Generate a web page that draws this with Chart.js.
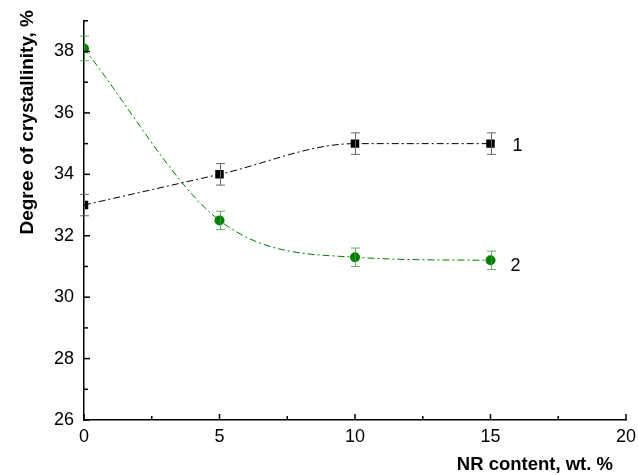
<!DOCTYPE html>
<html>
<head>
<meta charset="utf-8">
<script src="https://cdn.jsdelivr.net/npm/chart.js@4/dist/chart.umd.min.js"></script>
<style>
  html, body { margin: 0; padding: 0; background: #fff; }
  #wrap { width: 638px; height: 475px; }
</style>
</head>
<body>
<div id="wrap"><canvas id="chart" width="638" height="475"></canvas></div>
<script>
// NR-Gehalt (x) und Kristallinitätsgrad (y)
const nrContent = [0, 5, 10, 15];
const crystal1 = [33.0, 34.0, 35.0, 35.0];
const error1 = [0.35, 0.35, 0.35, 0.35];
const crystal2 = [38.1, 32.5, 31.3, 31.2];
const error2 = [0.4, 0.3, 0.3, 0.3];
const curveLabels = ['1', '2'];
const xTitle = 'NR content, wt. %';
const yTitle = 'Degree of crystallinity, %';

const green = 'rgb(0,128,0)';
const font = 'Liberation Sans, Arial, sans-serif';

const toPoints = vals => nrContent.map((x, i) => ({ x, y: vals[i] }));

// Fehlerbalken, Tick-Markierungen nach innen, Kurvennummern, Achsentitel
const extras = {
  id: 'extras',
  afterDatasetsDraw(chart) {
    const { ctx, scales: { x, y } } = chart;
    ctx.save();

    const errSets = [
      { vals: crystal1, errs: error1, color: '#666' },
      { vals: crystal2, errs: error2, color: 'rgba(60,160,60,0.8)' }
    ];
    ctx.lineWidth = 1;
    errSets.forEach(s => {
      ctx.strokeStyle = s.color;
      nrContent.forEach((xv, i) => {
        const px = Math.round(x.getPixelForValue(xv)) + 0.5;
        const top = y.getPixelForValue(s.vals[i] + s.errs[i]);
        const bot = y.getPixelForValue(s.vals[i] - s.errs[i]);
        ctx.beginPath();
        ctx.moveTo(px, top); ctx.lineTo(px, bot);
        ctx.moveTo(px - 4.5, top); ctx.lineTo(px + 4.5, top);
        ctx.moveTo(px - 4.5, bot); ctx.lineTo(px + 4.5, bot);
        ctx.stroke();
      });
    });

    // Ticks nach innen
    ctx.strokeStyle = '#000';
    ctx.lineWidth = 1.5;
    const area = chart.chartArea;
    x.ticks.forEach(t => {
      const px = x.getPixelForValue(t.value);
      const len = t.value % 5 === 0 ? 6 : 4;
      ctx.beginPath();
      ctx.moveTo(px, area.bottom); ctx.lineTo(px, area.bottom - len);
      ctx.stroke();
    });
    y.ticks.forEach(t => {
      const py = y.getPixelForValue(t.value);
      const len = t.value % 2 === 0 ? 6 : 4;
      ctx.beginPath();
      ctx.moveTo(area.left, py); ctx.lineTo(area.left + len, py);
      ctx.stroke();
    });

    // Kurvennummern
    ctx.fillStyle = '#000';
    ctx.font = '18px ' + font;
    ctx.textBaseline = 'middle';
    const last = nrContent.length - 1;
    ctx.fillText(curveLabels[0], x.getPixelForValue(nrContent[last]) + 22, y.getPixelForValue(crystal1[last]) + 2);
    ctx.fillText(curveLabels[1], x.getPixelForValue(nrContent[last]) + 20, y.getPixelForValue(crystal2[last]) + 6);

    // Achsentitel
    ctx.textBaseline = 'alphabetic';
    ctx.textAlign = 'right';
    ctx.font = 'bold 18.5px ' + font;
    ctx.fillText(xTitle, 613, 470);
    ctx.translate(33, 10);
    ctx.rotate(-Math.PI / 2);
    ctx.font = 'bold 19px ' + font;
    ctx.fillText(yTitle, 0, 0);
    ctx.restore();
  }
};

new Chart(document.getElementById('chart'), {
  type: 'line',
  data: {
    datasets: [{
      label: '1',
      data: toPoints(crystal1),
      borderColor: '#000',
      backgroundColor: '#000',
      borderWidth: 1,
      borderDash: [7, 3, 2, 3],
      pointStyle: 'rect',
      pointRadius: 6,
      pointBorderWidth: 0,
      cubicInterpolationMode: 'monotone'
    }, {
      label: '2',
      data: toPoints(crystal2),
      borderColor: green,
      backgroundColor: green,
      borderWidth: 1,
      borderDash: [7, 3, 2, 3],
      pointStyle: 'circle',
      pointRadius: 5,
      pointBorderWidth: 0,
      cubicInterpolationMode: 'monotone'
    }]
  },
  options: {
    responsive: false,
    animation: false,
    layout: { padding: { top: 20, right: 12 } },
    plugins: { legend: { display: false }, tooltip: { enabled: false } },
    scales: {
      x: {
        type: 'linear',
        min: 0, max: 20,
        afterFit: s => { s.height = 55; s.paddingRight = 0; s.paddingLeft = 0; },
        grid: { display: false, drawTicks: false },
        border: { color: '#000', width: 1.5 },
        ticks: {
          stepSize: 2.5,
          padding: 6,
          color: '#000',
          font: { family: font, size: 18 },
          callback: v => (v % 5 === 0 ? v : '')
        }
      },
      y: {
        min: 26, max: 39,
        afterFit: s => { s.width = 84; },
        grid: { display: false, drawTicks: false },
        border: { color: '#000', width: 1.5 },
        ticks: {
          stepSize: 1,
          padding: 10,
          color: '#000',
          font: { family: font, size: 18 },
          callback: v => (v % 2 === 0 ? v : '')
        }
      }
    }
  },
  plugins: [extras]
});
</script>
</body>
</html>
